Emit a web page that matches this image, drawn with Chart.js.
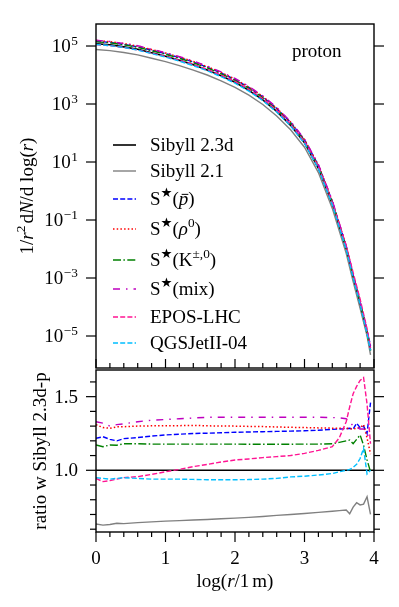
<!DOCTYPE html>
<html><head><meta charset="utf-8">
<script src="https://cdn.jsdelivr.net/npm/chart.js@4/dist/chart.umd.min.js"></script>
<style>
html,body{margin:0;padding:0;background:#fff;}
#wrap{position:relative;width:399px;height:607px;overflow:hidden;background:#fff}
canvas{position:absolute;left:0}
#c1{top:0}
#c2{top:366px}
</style></head><body>
<div id="wrap"><canvas id="c1" width="399" height="372"></canvas><canvas id="c2" width="399" height="241"></canvas></div>
<script>
// ---------- data ----------
const xTop = [0, 0.2, 0.4, 0.6, 0.8, 1.0, 1.2, 1.4, 1.6, 1.8, 2.0, 2.2, 2.4, 2.6, 2.8, 3.0, 3.2, 3.4, 3.6, 3.7, 3.8, 3.9, 3.95];
const topSibyll23d = [1.19e5, 1.10e5, 9.36e4, 7.68e4, 5.81e4, 4.41e4, 3.2e4, 2.24e4, 1.50e4, 9.36e3, 5.59e3, 2.96e3, 1.40e3, 559, 184, 45.8, 6.06, 0.347, 9.7e-3, 1.0e-3, 1.17e-4, 1.23e-5, 3.2e-6];
const topSibyll21 = [7.56e4, 6.95e4, 5.97e4, 4.95e4, 3.78e4, 2.89e4, 2.11e4, 1.48e4, 9.99e3, 6.28e3, 3.77e3, 2.01e3, 960, 388, 129, 32.4, 4.33, 0.251, 7.08e-3, 7.5e-4, 8.95e-5, 1.01e-5, 2.24e-6];
const topPbar = [1.448e5, 1.331e5, 1.137e5, 9.39e4, 7.16e4, 5.47e4, 3.98e4, 2.80e4, 1.878e4, 1.175e4, 7.03e3, 3.73e3, 1.767e3, 707, 233, 58.1, 7.71, 0.443, 1.24e-2, 1.28e-3, 1.51e-4, 1.54e-5, 4.67e-6];
const topRho0 = [1.559e5, 1.414e5, 1.213e5, 9.98e4, 7.56e4, 5.74e4, 4.17e4, 2.92e4, 1.953e4, 1.217e4, 7.27e3, 3.84e3, 1.816e3, 723, 238, 59.1, 7.81, 0.446, 1.25e-2, 1.28e-3, 1.51e-4, 1.50e-5, 3.55e-6];
const topKaon = [1.395e5, 1.289e5, 1.104e5, 9.06e4, 6.84e4, 5.19e4, 3.77e4, 2.64e4, 1.767e4, 1.103e4, 6.58e3, 3.48e3, 1.648e3, 658, 217, 54.0, 7.14, 0.409, 1.16e-2, 1.18e-3, 1.45e-4, 1.32e-5, 3.17e-6];
const topMix = [1.583e5, 1.43e5, 1.231e5, 1.021e5, 7.79e4, 5.93e4, 4.32e4, 3.04e4, 2.04e4, 1.273e4, 7.60e3, 4.03e3, 1.904e3, 760, 250, 62.3, 8.24, 0.471, 1.31e-2, 1.30e-3, 1.50e-4, 1.54e-5, 3.81e-6];
const topEpos = [1.125e5, 1.023e5, 8.89e4, 7.35e4, 5.65e4, 4.37e4, 3.22e4, 2.30e4, 1.56e4, 9.88e3, 5.98e3, 3.19e3, 1.52e3, 611, 202, 51.1, 6.88, 0.403, 1.29e-2, 1.52e-3, 1.88e-4, 1.78e-5, 3.78e-6];
const topQgs = [1.131e5, 1.034e5, 8.89e4, 7.26e4, 5.46e4, 4.15e4, 3.01e4, 2.10e4, 1.404e4, 8.76e3, 5.23e3, 2.77e3, 1.316e3, 528, 176, 44.0, 5.87, 0.339, 9.7e-3, 1.02e-3, 1.26e-4, 1.20e-5, 3.17e-6];

const xRatio = [0, 0.1, 0.2, 0.3, 0.4, 0.6, 0.8, 1.0, 1.2, 1.4, 1.6, 1.8, 2.0, 2.2, 2.4, 2.6, 2.8, 3.0, 3.2, 3.4, 3.5, 3.6, 3.65, 3.7, 3.75, 3.8, 3.85, 3.9, 3.95];
const xRatioRef = [0, 4];
const ratioSibyll23d = [1, 1];
const ratioSibyll21 = [0.635, 0.628, 0.632, 0.64, 0.638, 0.645, 0.65, 0.655, 0.658, 0.662, 0.666, 0.671, 0.675, 0.68, 0.686, 0.694, 0.70, 0.707, 0.714, 0.722, 0.726, 0.73, 0.705, 0.75, 0.78, 0.765, 0.77, 0.82, 0.70];
const ratioPbar = [1.217, 1.228, 1.21, 1.20, 1.215, 1.222, 1.232, 1.24, 1.245, 1.25, 1.252, 1.255, 1.258, 1.26, 1.262, 1.264, 1.266, 1.268, 1.272, 1.278, 1.28, 1.282, 1.285, 1.28, 1.32, 1.29, 1.30, 1.25, 1.46];
const ratioRho0 = [1.31, 1.29, 1.285, 1.295, 1.296, 1.30, 1.302, 1.302, 1.303, 1.305, 1.302, 1.30, 1.30, 1.298, 1.297, 1.294, 1.292, 1.29, 1.288, 1.286, 1.285, 1.285, 1.283, 1.28, 1.285, 1.29, 1.31, 1.22, 1.11];
const ratioKaon = [1.172, 1.16, 1.172, 1.17, 1.18, 1.18, 1.178, 1.178, 1.178, 1.178, 1.178, 1.178, 1.178, 1.177, 1.177, 1.177, 1.177, 1.178, 1.178, 1.18, 1.19, 1.20, 1.205, 1.18, 1.21, 1.24, 1.17, 1.07, 0.99];
const ratioMix = [1.33, 1.32, 1.30, 1.31, 1.315, 1.33, 1.34, 1.345, 1.35, 1.355, 1.36, 1.36, 1.36, 1.36, 1.36, 1.36, 1.36, 1.36, 1.36, 1.358, 1.356, 1.35, 1.33, 1.30, 1.29, 1.28, 1.28, 1.25, 1.19];
const ratioEpos = [0.945, 0.923, 0.93, 0.94, 0.95, 0.957, 0.972, 0.99, 1.006, 1.025, 1.04, 1.056, 1.07, 1.077, 1.086, 1.093, 1.10, 1.115, 1.135, 1.16, 1.22, 1.33, 1.43, 1.52, 1.57, 1.61, 1.63, 1.45, 1.18];
const ratioQgs = [0.95, 0.945, 0.94, 0.945, 0.95, 0.945, 0.94, 0.94, 0.94, 0.938, 0.936, 0.936, 0.936, 0.937, 0.94, 0.945, 0.955, 0.96, 0.968, 0.978, 0.99, 1.0, 1.005, 1.02, 1.04, 1.08, 1.15, 0.975, 1.0];

const topTickValues = [1e5, 1e3, 1e1, 1e-1, 1e-3, 1e-5];
const topTickExponents = ['5', '3', '1', '\u22121', '\u22123', '\u22125'];
const xTickValues = [0, 1, 2, 3, 4];
const xTickLabels = ['0', '1', '2', '3', '4'];
const ratioTickValues = [1.5, 1.0];
const ratioTickLabels = ['1.5', '1.0'];

// ---------- styles ----------
const SERIF = '"Liberation Serif", "DejaVu Serif", serif';
const FS = 19;
const styles = [
  {color:'#000000', dash:[], width:1.6},
  {color:'#808080', dash:[], width:1.4},
  {color:'#0000ff', dash:[5,2.2], width:1.4},
  {color:'#ff0000', dash:[1.5,2.2], width:1.5},
  {color:'#008000', dash:[8,2.4,1.5,2.4], width:1.4},
  {color:'#bf00bf', dash:[7,6,1.5,6], width:1.4},
  {color:'#ff1493', dash:[5,2.2], width:1.4},
  {color:'#00bfff', dash:[5,2.2], width:1.4}
];
function seg(t, o){ return Object.assign({t:t}, o||{}); }
const STAR = seg('\u2605', {sup:true, sans:true});
const legendTexts = [
  [seg('Sibyll 2.3d')],
  [seg('Sibyll 2.1')],
  [seg('S'), STAR, seg('('), seg('p', {it:true, bar:true}), seg(')')],
  [seg('S'), STAR, seg('('), seg('\u03c1', {it:true}), seg('0', {sup:true}), seg(')')],
  [seg('S'), STAR, seg('(K'), seg('\u00b1,0', {sup:true}), seg(')')],
  [seg('S'), STAR, seg('(mix)')],
  [seg('EPOS-LHC')],
  [seg('QGSJetII-04')]
];
const legendRowsY = [145, 171, 199, 229, 260, 289, 317, 343];

function richText(ctx, segs, x, y, size, draw){
  let cx = x;
  for (const s of segs){
    const fs = s.sup ? size*0.7 : size;
    const fam = s.sans ? '"DejaVu Sans", sans-serif' : SERIF;
    ctx.font = (s.it ? 'italic ' : '') + fs.toFixed(1) + 'px ' + fam;
    const dy = s.sup ? -size*0.4 : 0;
    const w = ctx.measureText(s.t).width;
    if (draw){
      ctx.fillText(s.t, cx, y + dy);
      if (s.bar){
        ctx.save(); ctx.lineWidth = 1; ctx.strokeStyle = ctx.fillStyle;
        ctx.beginPath(); ctx.moveTo(cx + w*0.3, y - size*0.56); ctx.lineTo(cx + w*1.0, y - size*0.56); ctx.stroke();
        ctx.restore();
      }
    }
    cx += w + (s.sp || 0);
  }
  return cx - x;
}
function line(ctx, x1, y1, x2, y2){ ctx.beginPath(); ctx.moveTo(x1, y1); ctx.lineTo(x2, y2); ctx.stroke(); }

function mk(xs, ys, i, label){
  const st = styles[i];
  return {label: label, data: xs.map((x, k) => ({x: x, y: ys[k]})), borderColor: st.color, borderDash: st.dash,
    borderWidth: st.width, pointRadius: 0, fill: false, tension: 0, order: 20 - i};
}
const names = ['Sibyll 2.3d','Sibyll 2.1','S*(pbar)','S*(rho0)','S*(K)','S*(mix)','EPOS-LHC','QGSJetII-04'];

// ---------- top panel ----------
const topFrame = {
  id: 'topFrame',
  afterDraw(chart){
    const ctx = chart.ctx, a = chart.chartArea, x = chart.scales.x, y = chart.scales.y;
    ctx.save();
    ctx.strokeStyle = '#000'; ctx.fillStyle = '#000'; ctx.lineWidth = 1.4;
    ctx.strokeRect(a.left, a.top, a.right - a.left, a.bottom - a.top);
    ctx.lineWidth = 1.2;
    topTickValues.forEach((v, i) => {
      const py = y.getPixelForValue(v);
      line(ctx, a.left - 10, py, a.left, py);
      line(ctx, a.right, py, a.right + 10, py);
      ctx.textAlign = 'left'; ctx.textBaseline = 'alphabetic';
      ctx.font = (FS*0.7).toFixed(1) + 'px ' + SERIF;
      const we = ctx.measureText(topTickExponents[i]).width;
      ctx.font = FS + 'px ' + SERIF;
      const wb = ctx.measureText('10').width;
      const right = a.left - 18;
      ctx.fillText('10', right - we - wb - 0.5, py + 6);
      ctx.font = (FS*0.7).toFixed(1) + 'px ' + SERIF;
      ctx.fillText(topTickExponents[i], right - we, py - 1);
    });
    for (let k = 0; k <= 20; k++){
      const px = x.getPixelForValue(k * 0.2);
      const len = (k % 5 === 0) ? 9 : 5;
      line(ctx, px, a.bottom, px, a.bottom - len);
    }
    // y title
    const tseg = [seg('1/'), seg('r', {it:true}), seg('2', {sup:true, sp:2}), seg('d'), seg('N', {it:true}), seg('/d log('), seg('r', {it:true}), seg(')')];
    ctx.textAlign = 'left';
    const tw = richText(ctx, tseg, 0, 0, FS, false);
    ctx.save();
    ctx.translate(33, (a.top + a.bottom) / 2);
    ctx.rotate(-Math.PI / 2);
    richText(ctx, tseg, -tw / 2, 0, FS, true);
    ctx.restore();
    // proton
    ctx.font = FS + 'px ' + SERIF;
    ctx.fillText('proton', 292, 57);
    // legend
    legendTexts.forEach((segs, i) => {
      const st = styles[i], ly = legendRowsY[i];
      ctx.save();
      ctx.strokeStyle = st.color; ctx.lineWidth = st.width; ctx.setLineDash(st.dash);
      line(ctx, 113, ly, 136, ly);
      ctx.restore();
      ctx.fillStyle = '#000';
      richText(ctx, segs, 150, ly + 6, FS, true);
    });
    ctx.restore();
  }
};
new Chart(document.getElementById('c1'), {
  type: 'line',
  data: { datasets: [
    mk(xTop, topSibyll23d, 0, names[0]), mk(xTop, topSibyll21, 1, names[1]), mk(xTop, topPbar, 2, names[2]),
    mk(xTop, topRho0, 3, names[3]), mk(xTop, topKaon, 4, names[4]), mk(xTop, topMix, 5, names[5]),
    mk(xTop, topEpos, 6, names[6]), mk(xTop, topQgs, 7, names[7])
  ]},
  options: {
    responsive: false, animation: false, devicePixelRatio: 1,
    layout: { padding: {left: 96, right: 25, top: 24, bottom: 4} },
    scales: {
      x: { type: 'linear', display: false, min: 0, max: 4 },
      y: { type: 'logarithmic', display: false, min: 7.88e-7, max: 5.74e5 }
    },
    plugins: { legend: {display: false}, tooltip: {enabled: false} }
  },
  plugins: [topFrame]
});

// ---------- ratio panel ----------
const botFrame = {
  id: 'botFrame',
  afterDraw(chart){
    const ctx = chart.ctx, a = chart.chartArea, x = chart.scales.x, y = chart.scales.y;
    ctx.save();
    ctx.strokeStyle = '#000'; ctx.fillStyle = '#000'; ctx.lineWidth = 1.4;
    ctx.strokeRect(a.left, a.top, a.right - a.left, a.bottom - a.top);
    ctx.lineWidth = 1.2;
    for (let k = 6; k <= 16; k++){
      const py = y.getPixelForValue(k / 10);
      const major = (k === 10 || k === 15);
      const len = major ? 10 : 6;
      line(ctx, a.left - len, py, a.left, py);
      line(ctx, a.right, py, a.right + len, py);
    }
    ctx.font = FS + 'px ' + SERIF; ctx.textAlign = 'right'; ctx.textBaseline = 'alphabetic';
    ratioTickValues.forEach((v, i) => {
      ctx.fillText(ratioTickLabels[i], a.left - 18, y.getPixelForValue(v) + 6);
    });
    for (let k = 0; k <= 20; k++){
      const px = x.getPixelForValue(k * 0.2);
      const len = (k % 5 === 0) ? 10 : 5;
      line(ctx, px, a.bottom, px, a.bottom + len);
    }
    ctx.textAlign = 'center';
    xTickValues.forEach((v, i) => {
      ctx.fillText(xTickLabels[i], x.getPixelForValue(v), a.bottom + 32);
    });
    // x title
    const xs = [seg('log('), seg('r', {it:true}), seg('/1', {sp:3}), seg('m)')];
    ctx.textAlign = 'left';
    const xw = richText(ctx, xs, 0, 0, FS, false);
    richText(ctx, xs, (a.left + a.right) / 2 - xw / 2, a.bottom + 55, FS, true);
    // y title
    ctx.save();
    ctx.translate(46, (a.top + a.bottom) / 2);
    ctx.rotate(-Math.PI / 2);
    ctx.font = FS + 'px ' + SERIF; ctx.textAlign = 'center';
    ctx.fillText('ratio w Sibyll 2.3d-p', 0, 0);
    ctx.restore();
    ctx.restore();
  }
};
new Chart(document.getElementById('c2'), {
  type: 'line',
  data: { datasets: [
    mk(xRatioRef, ratioSibyll23d, 0, names[0]), mk(xRatio, ratioSibyll21, 1, names[1]), mk(xRatio, ratioPbar, 2, names[2]),
    mk(xRatio, ratioRho0, 3, names[3]), mk(xRatio, ratioKaon, 4, names[4]), mk(xRatio, ratioMix, 5, names[5]),
    mk(xRatio, ratioEpos, 6, names[6]), mk(xRatio, ratioQgs, 7, names[7])
  ]},
  options: {
    responsive: false, animation: false, devicePixelRatio: 1,
    layout: { padding: {left: 96, right: 25, top: 4, bottom: 75} },
    scales: {
      x: { type: 'linear', display: false, min: 0, max: 4 },
      y: { type: 'linear', display: false, min: 0.581, max: 1.681 }
    },
    plugins: { legend: {display: false}, tooltip: {enabled: false} }
  },
  plugins: [botFrame]
});
</script>
</body></html>
